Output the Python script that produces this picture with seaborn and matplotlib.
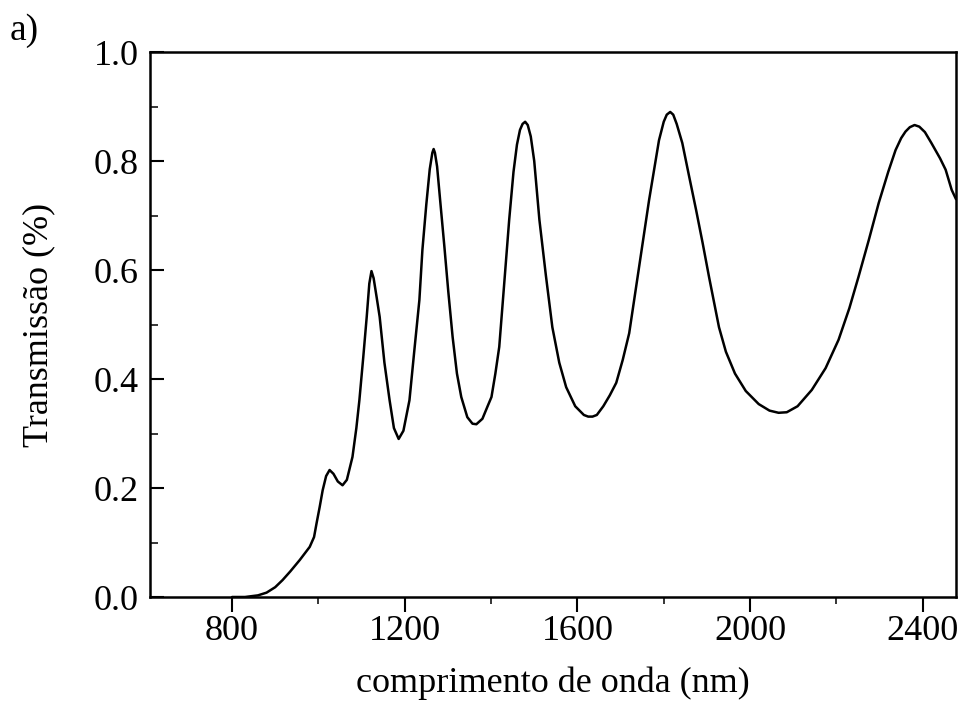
import matplotlib
matplotlib.use("Agg")
import matplotlib.pyplot as plt
import seaborn as sns
import pandas as pd
from matplotlib.ticker import MultipleLocator

wavelength = [800, 830, 860, 880, 900, 917, 935, 957, 980, 990, 996, 1003, 1010, 1018, 1026,
              1035, 1045, 1056, 1066, 1079, 1088, 1095, 1104, 1112, 1118, 1123, 1128, 1135,
              1142, 1153, 1165, 1175, 1186, 1197, 1211, 1222, 1234, 1241, 1250, 1258, 1264,
              1267, 1270, 1275, 1283, 1292, 1301, 1311, 1321, 1331, 1345, 1357, 1366, 1380,
              1392, 1401, 1410, 1419, 1430, 1442, 1452, 1460, 1467, 1473, 1479, 1485, 1492,
              1500, 1512, 1527, 1542, 1558, 1574, 1595, 1615, 1625, 1635, 1645, 1660, 1675,
              1690, 1705, 1720, 1743, 1766, 1789, 1800, 1807, 1815, 1822, 1830, 1843, 1858,
              1875, 1890, 1905, 1928, 1944, 1965, 1990, 2020, 2045, 2066, 2085, 2110, 2143,
              2175, 2205, 2230, 2251, 2275, 2298, 2320, 2337, 2350, 2360, 2370, 2381, 2392,
              2405, 2420, 2440, 2453, 2467, 2477]
transmission = [0.0, 0.0, 0.003, 0.008, 0.018, 0.031, 0.047, 0.068, 0.092, 0.11, 0.136, 0.165,
                0.196, 0.222, 0.233, 0.226, 0.212, 0.205, 0.215, 0.257, 0.31, 0.361, 0.44,
                0.514, 0.575, 0.598, 0.585, 0.55, 0.514, 0.43, 0.361, 0.31, 0.29, 0.305,
                0.361, 0.45, 0.545, 0.637, 0.72, 0.785, 0.815, 0.822, 0.815, 0.79, 0.72,
                0.642, 0.56, 0.477, 0.41, 0.367, 0.33, 0.318, 0.317, 0.327, 0.35, 0.367,
                0.41, 0.459, 0.57, 0.692, 0.78, 0.83, 0.857, 0.868, 0.872, 0.866, 0.845,
                0.8, 0.692, 0.59, 0.495, 0.43, 0.385, 0.35, 0.334, 0.331, 0.331, 0.334,
                0.35, 0.37, 0.393, 0.435, 0.484, 0.606, 0.728, 0.838, 0.872, 0.885, 0.89,
                0.885, 0.868, 0.833, 0.775, 0.71, 0.65, 0.587, 0.495, 0.45, 0.41, 0.378,
                0.354, 0.342, 0.338, 0.339, 0.35, 0.38, 0.42, 0.472, 0.53, 0.587, 0.655,
                0.723, 0.78, 0.82, 0.842, 0.854, 0.862, 0.866, 0.863, 0.853, 0.833, 0.805,
                0.784, 0.747, 0.73]
x_ticks = [800, 1200, 1600, 2000, 2400]
y_ticks = [0.0, 0.2, 0.4, 0.6, 0.8, 1.0]

sns.set_theme(style="white")
plt.rcParams['font.family'] = ['Liberation Serif', 'DejaVu Serif']

df = pd.DataFrame({"wl": wavelength, "T": transmission})

fig = plt.figure(figsize=(9.59, 7.03), dpi=100)
ax = fig.add_axes([150/959, 1 - 597/703, (956 - 150)/959, (597 - 52)/703])
sns.lineplot(data=df, x="wl", y="T", ax=ax, color="black", linewidth=1.8, sort=False)

ax.set_xlim(610, 2477)
ax.set_ylim(0, 1.0)
ax.set_xticks(x_ticks)
ax.set_yticks(y_ticks)
ax.set_yticklabels([f"{v:.1f}" for v in y_ticks])
ax.xaxis.set_minor_locator(MultipleLocator(200))
ax.yaxis.set_minor_locator(MultipleLocator(0.1))
ax.tick_params(axis="x", which="major", direction="out", length=11, width=1.5,
               labelsize=26, bottom=True, pad=2, colors="black")
ax.tick_params(axis="x", which="minor", direction="out", length=5, width=1.3, bottom=True)
ax.tick_params(axis="y", which="major", direction="in", length=10, width=1.5,
               labelsize=26, left=True, pad=8, colors="black")
ax.tick_params(axis="y", which="minor", direction="in", length=6, width=1.3, left=True)
for s in ax.spines.values():
    s.set_visible(True)
    s.set_color("black")
    s.set_linewidth(1.8)

ax.set_xlabel("comprimento de onda (nm)", fontsize=26, color="black", labelpad=13)
ax.set_ylabel("Transmissão (%)", fontsize=26, color="black", labelpad=28)
fig.text(10/959, 1 - 40/703, "a)", fontsize=27, color="black")

fig.savefig("out.png", dpi=100)
